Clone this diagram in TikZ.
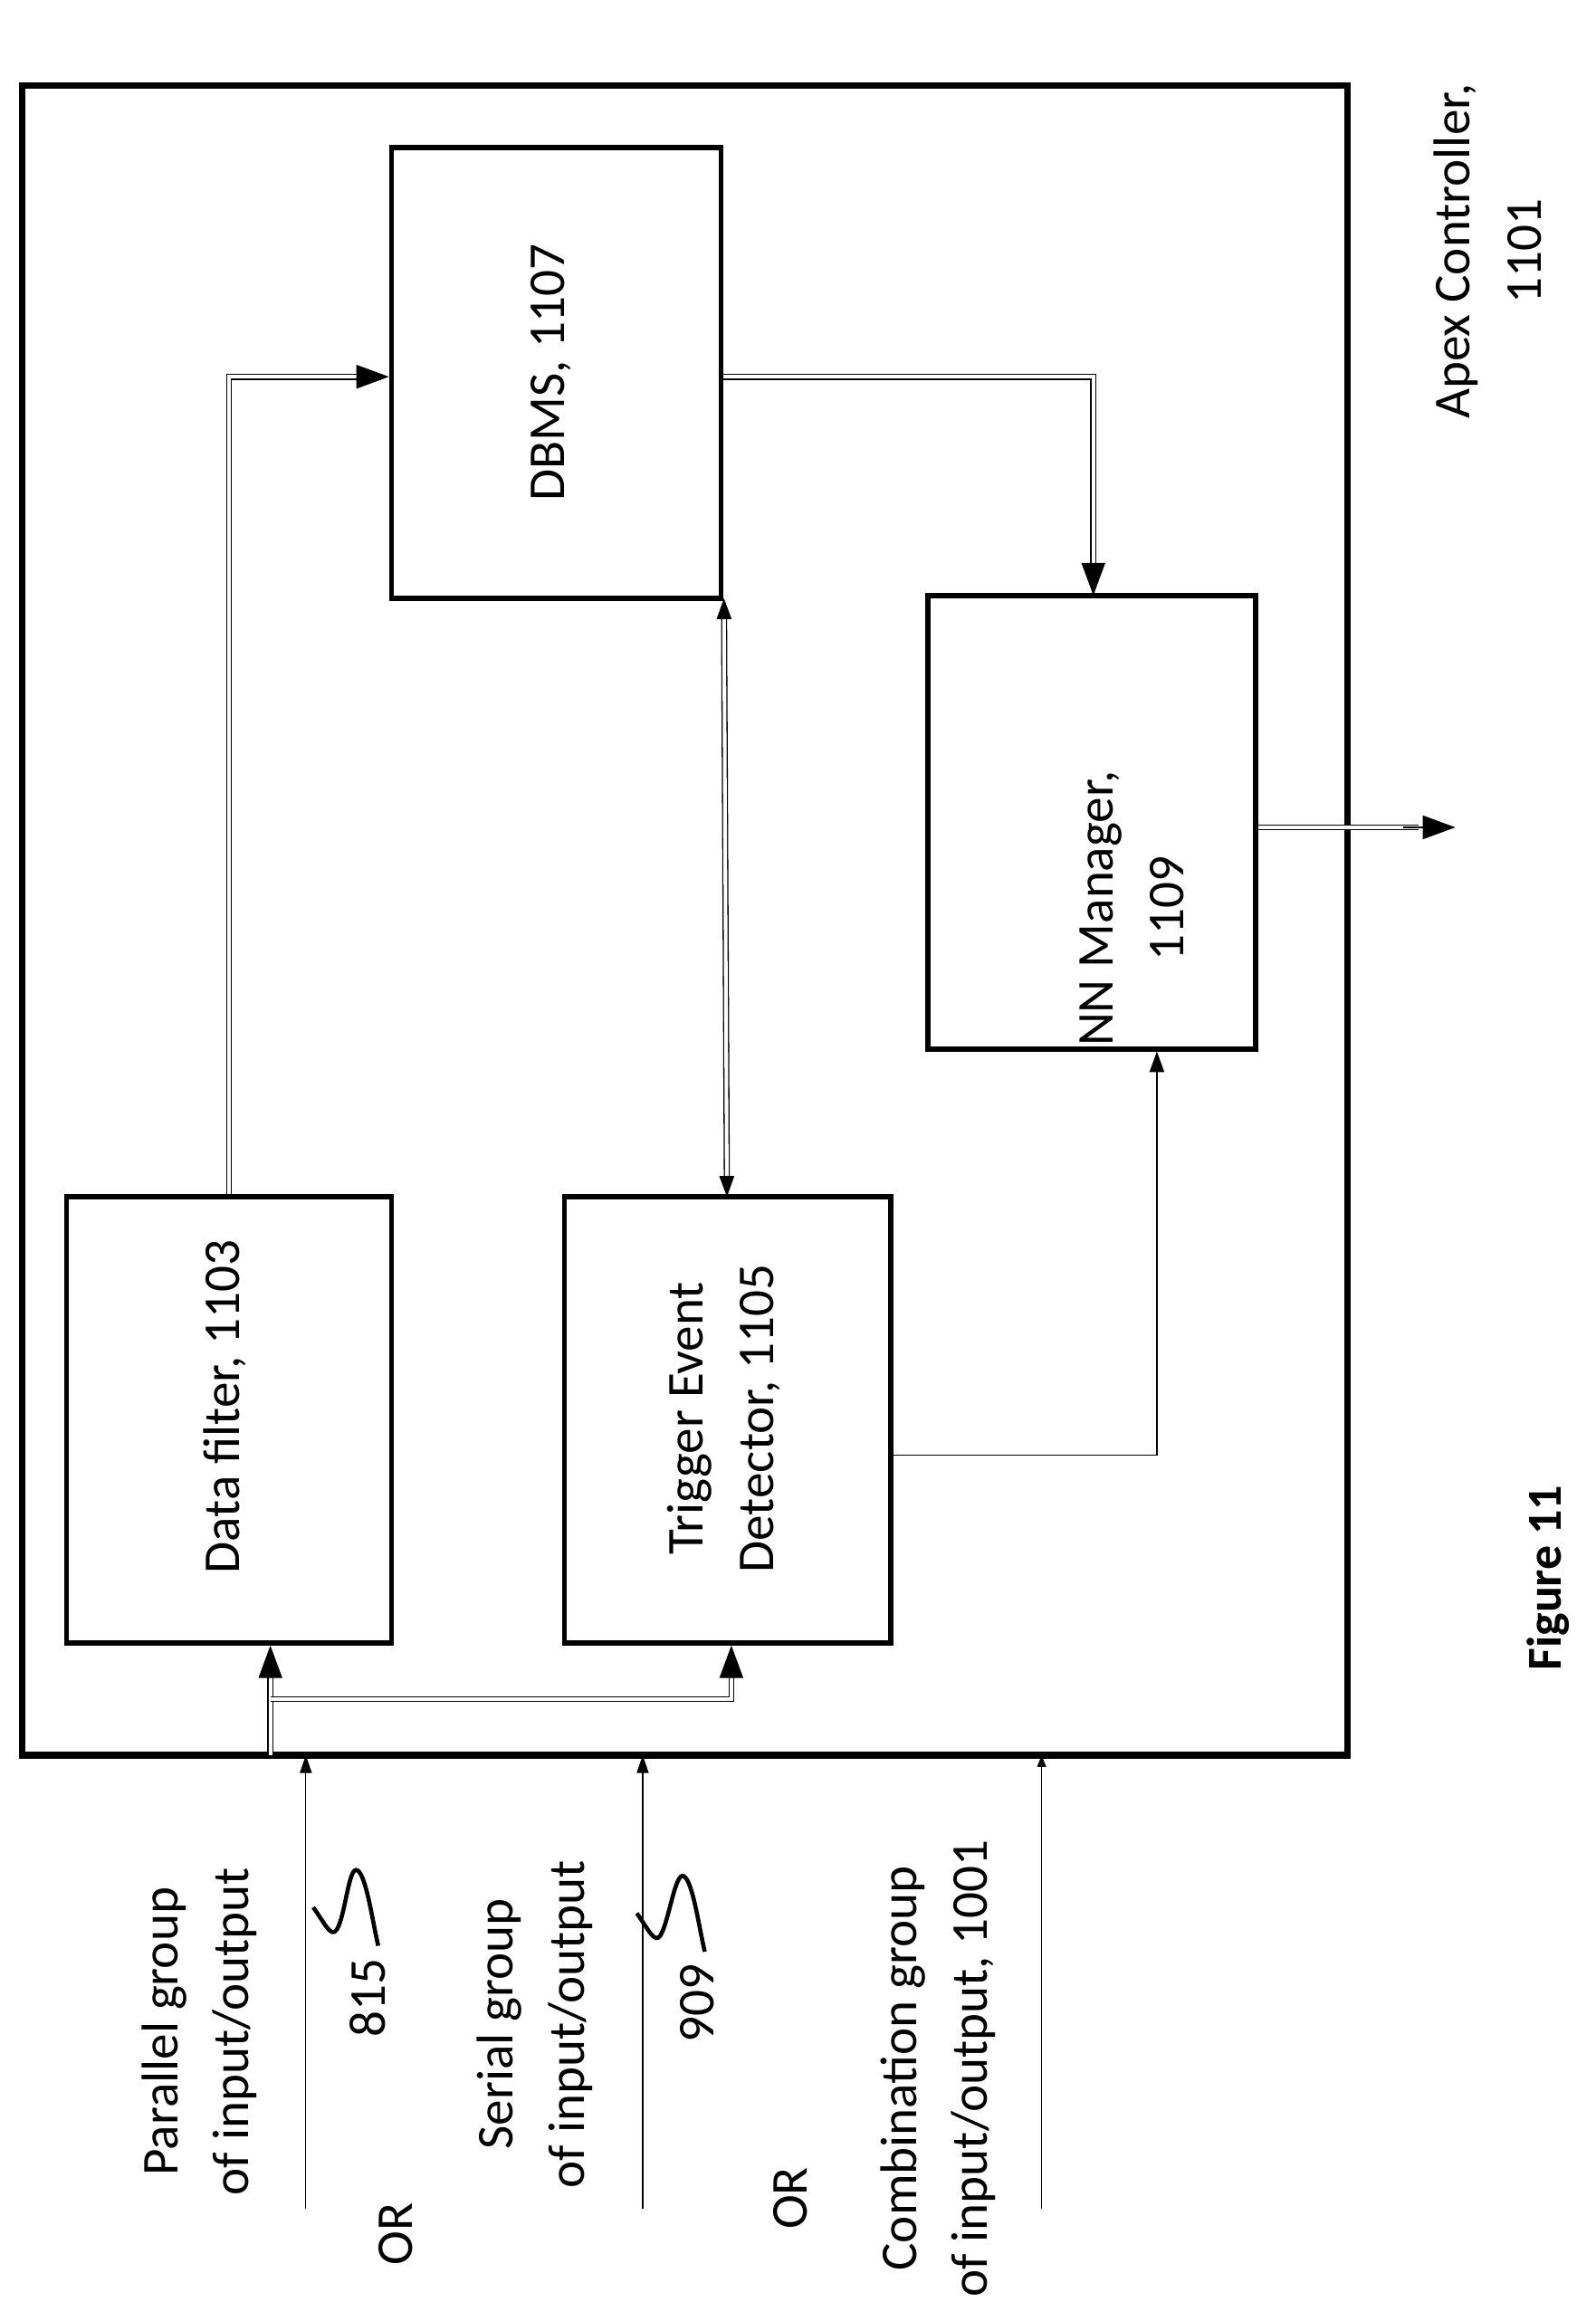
\documentclass[tikz,border=0pt]{standalone}
\usepackage{fontspec}
\setmainfont{Carlito}
\usetikzlibrary{arrows.meta}
\begin{document}
\begin{tikzpicture}[x=1pt,y=-1pt,
  box/.style={draw,line width=3.5pt,inner sep=0pt},
  lbl/.style={rotate=90,font=\fontsize{35}{48}\selectfont,align=center},
  dbl/.style={double,double distance=2.5pt,line width=0.8pt},
  tip/.style={-{Triangle[length=22pt,width=16pt]}},
  thin/.style={line width=0.8pt}]
\useasboundingbox (0,0) rectangle (1080,1571);
\draw[box,line width=4.5pt] (15,58) rectangle (912,1188);
\node[box,minimum width=223pt,minimum height=305pt] (dbms) at (376.5,252.5) {};
\node[lbl] at (373,252) {DBMS, 1107};
\node[box,minimum width=222pt,minimum height=307pt] (nn) at (739,556.5) {};
\node[lbl] at (766,615) {NN Manager,\\1109};
\node[box,minimum width=220pt,minimum height=302pt] (df) at (155,961) {};
\node[lbl] at (152,952) {Data filter, 1103};
\node[box,minimum width=221pt,minimum height=302pt] (ted) at (492.5,961) {};
\node[lbl] at (490,960) {Trigger Event\\Detector, 1105};
% connectors
\draw[dbl] (df.north) |- (258,255);
\draw[tip,thin] (245,255) -- (dbms.west |- 0,255);
\draw[dbl] (dbms.east |- 0,255) -| (740,395);
\draw[tip,thin] (740,382) -- (740,403);
\draw[dbl,{Triangle[length=14pt,width=10pt]}-{Triangle[length=14pt,width=10pt]}] (490,405) -- (492,810);
\draw[thin,-{Triangle[length=14pt,width=10pt]}] (ted.east |- 0,985) -| (nn.south -| 783,0);
\draw[dbl] (nn.east |- 0,560) -- (960,560);
\draw[tip,thin] (950,560) -- (985,560);
\coordinate (in) at (183,1188);
\draw[dbl] (in) -- (183,1125);
\draw[tip,thin] (183,1135) -- (df.south -| 183,0);
\draw[dbl] (183,1150) -| (495,1125);
\draw[tip,thin] (495,1135) -- (ted.south -| 495,0);
% external lines
\coordinate (p1) at (207,1495); \coordinate (q1) at (207,1188);
\coordinate (p2) at (435,1495); \coordinate (q2) at (435,1188);
\coordinate (p3) at (705,1495); \coordinate (q3) at (705,1188);
\draw[thin,-{Triangle[length=12pt,width=8pt]}] (p1) -- (q1);
\draw[thin,-{Triangle[length=12pt,width=8pt]}] (p2) -- (q2);
\draw[thin,-{Triangle[length=8pt,width=6pt]}] (p3) -- (q3);
% squiggles
\draw[line width=2.8pt] (212,1291) .. controls (220,1302) and (224,1312) .. (228,1306) .. controls (234,1296) and (236,1262) .. (242,1266) .. controls (248,1270) and (252,1300) .. (256,1317);
\draw[line width=2.8pt] (431,1295) .. controls (439,1306) and (443,1316) .. (447,1310) .. controls (453,1300) and (457,1266) .. (463,1270) .. controls (469,1274) and (473,1304) .. (477,1321);
% texts
\node[lbl] at (135,1375) {Parallel group\\of input/output};
\node[lbl] at (268,1512) {OR};
\node[lbl] at (249,1352) {815};
\node[lbl] at (362,1370) {Serial group\\of input/output};
\node[lbl] at (472,1356) {909};
\node[lbl] at (535,1488) {OR};
\node[lbl] at (635,1400) {Combination group\\of input/output, 1001};
\node[lbl] at (1007,170) {Apex Controller,\\1101};
\node[lbl,font=\fontsize{33}{40}\selectfont\bfseries] at (1048,1068) {Figure 11};
\end{tikzpicture}
\end{document}
